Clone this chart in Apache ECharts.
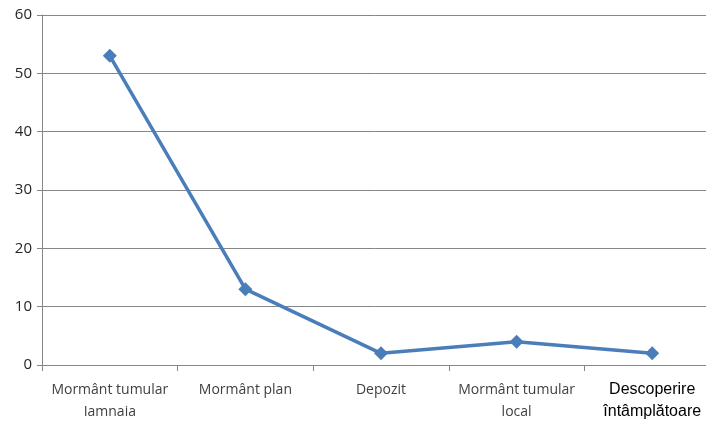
<!DOCTYPE html>
<html>
<head>
<meta charset="utf-8">
<script src="https://cdn.jsdelivr.net/npm/echarts@6/dist/echarts.min.js"></script>
<style>
  html, body { margin: 0; padding: 0; background: #fff; }
  #chart { width: 706px; height: 423px; }
</style>
</head>
<body>
<div id="chart"></div>
<script>
const categories = ['Mormânt tumular\nIamnaia', 'Mormânt plan', 'Depozit', 'Mormânt tumular\nlocal', 'Descoperire\nîntâmplătoare'];
const values = [53, 13, 2, 4, 2];
const yTicks = [0, 10, 20, 30, 40, 50, 60];

const chart = echarts.init(document.getElementById('chart'));
const font = '"Liberation Sans Narrow", "Open Sans", sans-serif';

chart.setOption({
  animation: false,
  grid: { left: 42, width: 678, top: 15, bottom: 58, outerBoundsMode: 'none', containLabel: false },
  xAxis: {
    type: 'category',
    data: categories,
    boundaryGap: true,
    axisLine: { lineStyle: { color: '#868686', width: 1 } },
    axisTick: { show: true, length: 6, lineStyle: { color: '#868686' } },
    axisLabel: {
      interval: 0,
      margin: 14,
      fontSize: 14,
      lineHeight: 22,
      color: '#404040',
      fontFamily: font,
      formatter: function (v, i) {
        return i === categories.length - 1 ? '{b|' + v.replace('\n', '}\n{b|') + '}' : v;
      },
      rich: {
        b: { fontSize: 16, lineHeight: 22, color: '#000', fontFamily: 'Liberation Sans, Arial, sans-serif' }
      }
    }
  },
  yAxis: {
    type: 'value',
    min: yTicks[0],
    max: yTicks[yTicks.length - 1],
    interval: 10,
    axisLine: { show: true, lineStyle: { color: '#868686' } },
    axisTick: { show: true, length: 5, lineStyle: { color: '#868686' } },
    axisLabel: { fontSize: 15, color: '#262626', fontFamily: font, margin: 10 },
    splitLine: { lineStyle: { color: '#868686', width: 1 } }
  },
  series: [{
    type: 'line',
    data: values,
    symbol: 'diamond',
    symbolSize: 14,
    lineStyle: { color: '#4a7ebb', width: 3.5 },
    itemStyle: { color: '#4a7ebb' }
  }]
});
</script>
</body>
</html>
